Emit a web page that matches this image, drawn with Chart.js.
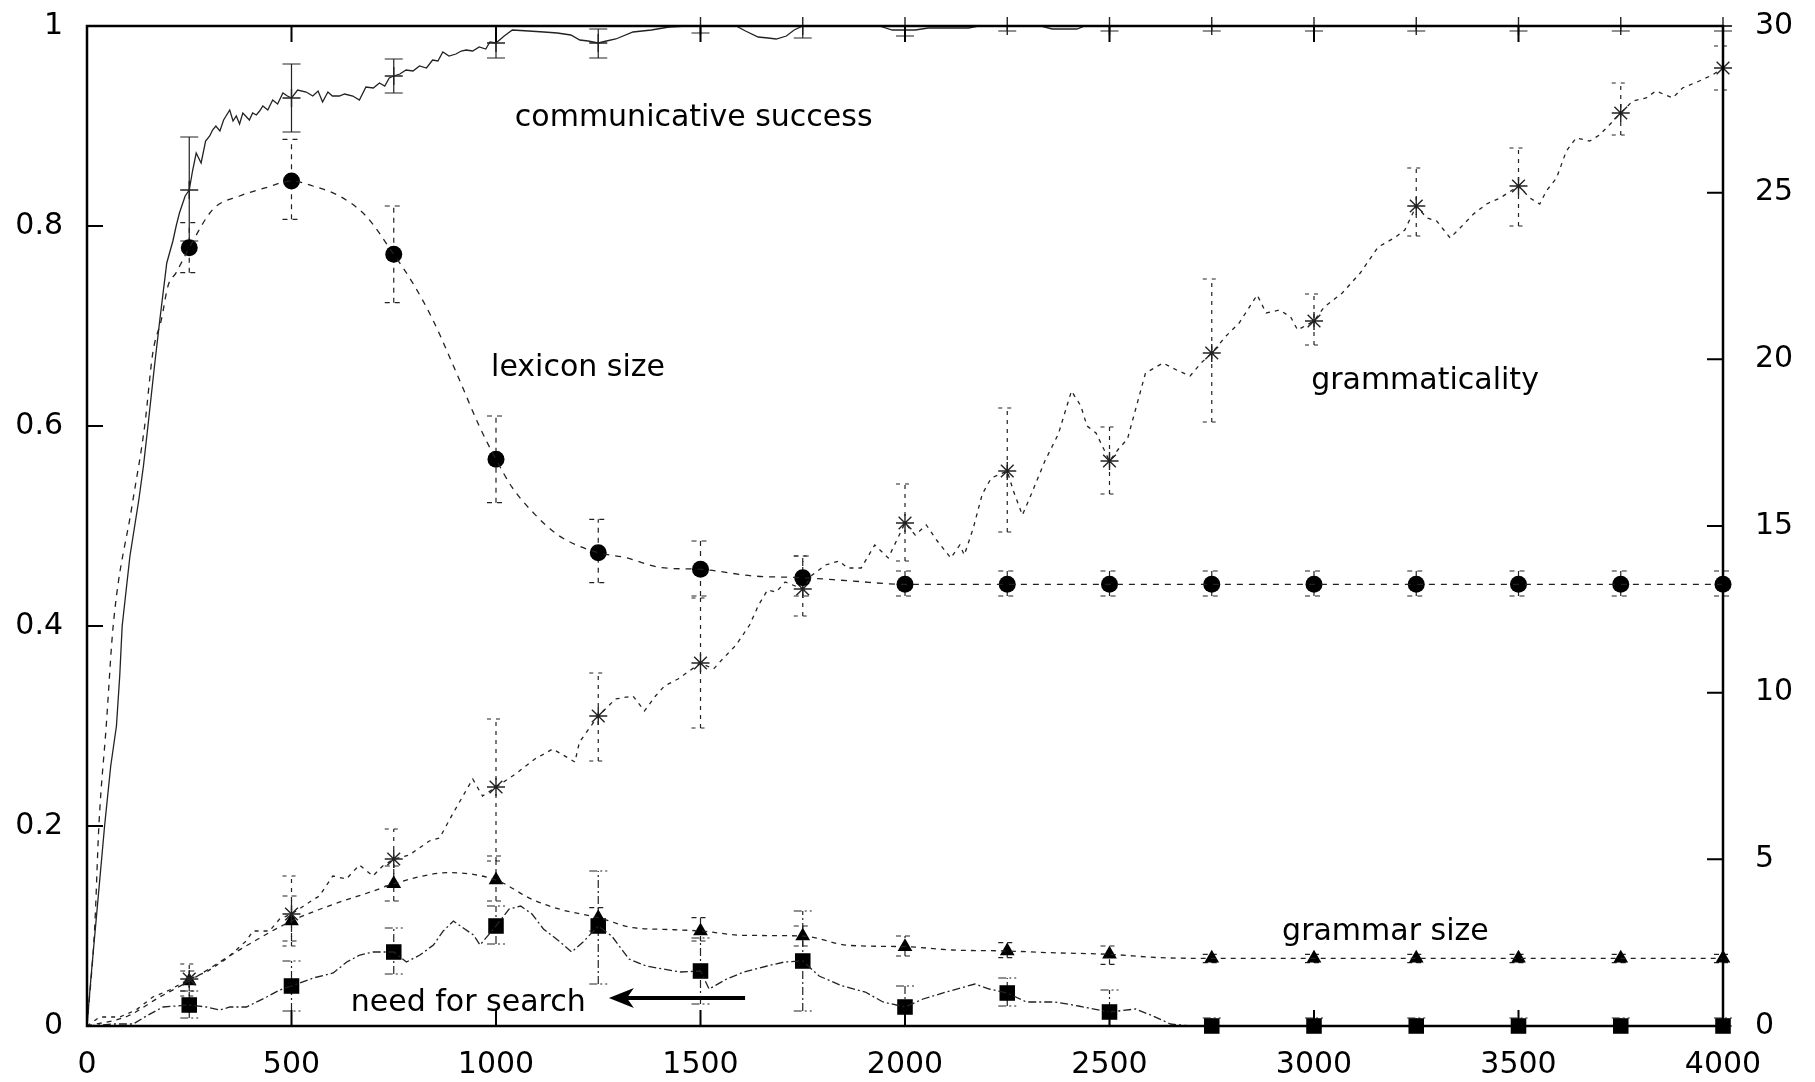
<!DOCTYPE html>
<html lang="en">

<head>
  <meta charset="UTF-8" />
  <title>Communicative success, lexicon and grammar</title>
  <script src="https://cdn.jsdelivr.net/npm/chart.js"></script>
  <style>
    html, body { margin: 0; padding: 0; background: #fff; }
    canvas { display: block; }
  </style>
</head>

<body>
  <canvas id="chart" width="1815" height="1082"></canvas>

  <script>
    // tick labels
    var xTicks = [0, 500, 1000, 1500, 2000, 2500, 3000, 3500, 4000]
    var leftTicks = [0, 0.2, 0.4, 0.6, 0.8, 1]
    var rightTicks = [0, 5, 10, 15, 20, 25, 30]

    // games at which the markers / error bars sit
    var markX = [250, 500, 750, 1000, 1250, 1500, 1750, 2000, 2250, 2500, 2750, 3000, 3250, 3500, 3750, 4000]

    // communicative success (left axis)
    var succX = [0, 10, 21, 32, 43, 58, 72, 80, 86, 105, 127, 138, 149, 165, 178, 195, 210, 218, 226, 240, 250, 258, 267, 279, 290, 300, 307, 315, 325, 334, 349, 357, 365, 373, 381, 397, 405, 414, 422, 430, 442, 454, 466, 479, 490, 500, 515, 536, 552, 565, 576, 589, 600, 617, 630, 650, 666, 682, 700, 715, 728, 739, 750, 765, 780, 797, 813, 830, 845, 858, 870, 885, 902, 915, 927, 943, 959, 975, 985, 1000, 1020, 1040, 1080, 1117, 1150, 1183, 1205, 1225, 1250, 1270, 1293, 1335, 1380, 1423, 1467, 1587, 1610, 1641, 1665, 1685, 1710, 1729, 1750, 1937, 1969, 2025, 2057, 2100, 2155, 2180, 2332, 2360, 2420, 2440, 4000]
    var succY = [0, 0.05, 0.1, 0.15, 0.2, 0.26, 0.3, 0.35, 0.4, 0.47, 0.527, 0.56, 0.6, 0.66, 0.706, 0.763, 0.785, 0.8, 0.813, 0.83, 0.836, 0.855, 0.873, 0.863, 0.885, 0.89, 0.896, 0.9, 0.895, 0.906, 0.916, 0.905, 0.91, 0.902, 0.913, 0.906, 0.913, 0.911, 0.915, 0.92, 0.916, 0.926, 0.922, 0.933, 0.93, 0.928, 0.936, 0.934, 0.93, 0.935, 0.924, 0.934, 0.93, 0.93, 0.932, 0.93, 0.926, 0.939, 0.938, 0.943, 0.94, 0.948, 0.95, 0.952, 0.956, 0.955, 0.96, 0.958, 0.966, 0.965, 0.974, 0.97, 0.972, 0.975, 0.976, 0.975, 0.979, 0.977, 0.984, 0.983, 0.99, 0.996, 0.995, 0.994, 0.993, 0.991, 0.986, 0.985, 0.983, 0.985, 0.987, 0.994, 0.996, 0.999, 1, 1, 0.995, 0.989, 0.988, 0.987, 0.99, 0.996, 1, 1, 0.996, 0.996, 0.998, 0.998, 0.998, 1, 1, 0.997, 0.997, 1, 1]
    var succMark = [0.836, 0.928, 0.95, 0.983, 0.983, 1, 1, 1, 1, 1, 1, 1, 1, 1, 1, 1]
    var succErr = [[0.785, 0.889], [0.894, 0.962], [0.933, 0.967], [0.968, 1], [0.968, 0.997], [0.993, 1], [0.988, 1], [0.99, 1], [0.995, 1], [0.995, 1], [0.995, 1], [0.995, 1], [0.995, 1], [0.995, 1], [0.995, 1], [0.995, 1]]

    // lexicon size (right axis)
    var lexX = [0, 19, 29, 47, 64, 110, 141, 161, 182, 198, 218, 250, 308, 373, 438, 500, 552, 617, 682, 750, 796, 845, 910, 959, 1000, 1040, 1095, 1149, 1193, 1250, 1317, 1405, 1500, 1630, 1750, 1870, 2000, 2500, 3000, 3500, 4000]
    var lexY = [0, 3, 6, 9, 12, 15.6, 18, 20.2, 21.2, 22.2, 22.6, 23.35, 24.5, 24.9, 25.15, 25.35, 25.2, 24.9, 24.3, 23.15, 22.3, 21.2, 19.4, 18, 17, 16.15, 15.35, 14.75, 14.45, 14.2, 14.05, 13.75, 13.7, 13.5, 13.45, 13.35, 13.25, 13.25, 13.25, 13.25, 13.25]
    var lexMark = [23.35, 25.35, 23.15, 17, 14.2, 13.7, 13.45, 13.25, 13.25, 13.25, 13.25, 13.25, 13.25, 13.25, 13.25, 13.25]
    var lexErr = [[22.6, 24.1], [24.2, 26.6], [21.7, 24.6], [15.7, 18.3], [13.3, 15.2], [12.9, 14.55], [12.9, 14.1], [12.9, 13.65], [12.9, 13.65], [12.9, 13.65], [12.9, 13.65], [12.9, 13.65], [12.9, 13.65], [12.9, 13.65], [12.9, 13.65], [12.9, 13.65]]

    // grammaticality (left axis)
    var gramX = [0, 31, 80, 120, 161, 202, 250, 292, 340, 389, 406, 446, 471, 500, 552, 568, 601, 634, 666, 699, 723, 750, 788, 837, 862, 894, 943, 967, 1000, 1051, 1095, 1139, 1193, 1204, 1250, 1292, 1335, 1363, 1390, 1412, 1445, 1500, 1532, 1554, 1587, 1620, 1642, 1664, 1685, 1707, 1750, 1773, 1806, 1839, 1860, 1893, 1926, 1959, 2000, 2025, 2052, 2079, 2112, 2134, 2145, 2167, 2189, 2211, 2250, 2265, 2287, 2309, 2342, 2375, 2407, 2430, 2445, 2467, 2500, 2522, 2544, 2566, 2588, 2631, 2664, 2697, 2724, 2750, 2785, 2817, 2861, 2883, 2916, 2943, 2960, 3000, 3025, 3069, 3113, 3157, 3200, 3222, 3250, 3276, 3300, 3333, 3357, 3390, 3422, 3455, 3500, 3528, 3552, 3568, 3593, 3617, 3641, 3674, 3698, 3722, 3750, 3779, 3812, 3836, 3877, 3901, 3942, 3974, 4000]
    var gramY = [0, 0.009, 0.009, 0.016, 0.029, 0.036, 0.047, 0.054, 0.067, 0.085, 0.095, 0.095, 0.107, 0.112, 0.126, 0.13, 0.15, 0.147, 0.161, 0.15, 0.16, 0.167, 0.171, 0.185, 0.188, 0.212, 0.247, 0.23, 0.239, 0.253, 0.267, 0.277, 0.264, 0.284, 0.31, 0.327, 0.33, 0.315, 0.33, 0.34, 0.347, 0.363, 0.357, 0.367, 0.381, 0.401, 0.421, 0.436, 0.434, 0.444, 0.437, 0.451, 0.461, 0.465, 0.458, 0.458, 0.481, 0.468, 0.503, 0.491, 0.501, 0.485, 0.468, 0.481, 0.471, 0.498, 0.532, 0.548, 0.555, 0.535, 0.511, 0.532, 0.565, 0.592, 0.635, 0.62, 0.6, 0.593, 0.565, 0.577, 0.587, 0.62, 0.653, 0.663, 0.656, 0.65, 0.663, 0.673, 0.69, 0.703, 0.731, 0.713, 0.716, 0.709, 0.696, 0.705, 0.719, 0.733, 0.753, 0.779, 0.789, 0.796, 0.82, 0.808, 0.805, 0.788, 0.798, 0.812, 0.822, 0.828, 0.84, 0.828, 0.822, 0.835, 0.848, 0.875, 0.888, 0.885, 0.891, 0.901, 0.913, 0.925, 0.928, 0.935, 0.928, 0.938, 0.945, 0.951, 0.958]
    var gramMark = [0.047, 0.112, 0.167, 0.239, 0.31, 0.363, 0.437, 0.503, 0.555, 0.565, 0.673, 0.705, 0.82, 0.84, 0.913, 0.958]
    var gramErr = [[0.03, 0.062], [0.08, 0.15], [0.14, 0.197], [0.165, 0.307], [0.265, 0.353], [0.298, 0.428], [0.41, 0.47], [0.465, 0.542], [0.494, 0.618], [0.532, 0.599], [0.604, 0.747], [0.681, 0.732], [0.79, 0.858], [0.8, 0.878], [0.891, 0.943], [0.936, 0.98]]

    // grammar size (right axis)
    var sizeX = [0, 100, 175, 250, 375, 500, 602, 700, 750, 887, 1000, 1088, 1157, 1250, 1335, 1409, 1500, 1606, 1750, 1861, 2000, 2116, 2250, 2353, 2500, 2623, 2750, 3000, 3500, 4000]
    var sizeY = [0, 0.3, 0.85, 1.35, 2.3, 3.15, 3.65, 4.05, 4.27, 4.6, 4.38, 3.8, 3.5, 3.25, 2.95, 2.9, 2.85, 2.72, 2.7, 2.42, 2.38, 2.28, 2.25, 2.2, 2.15, 2.05, 2.03, 2.03, 2.03, 2.03]
    var sizeMark = [1.35, 3.15, 4.27, 4.38, 3.25, 2.85, 2.7, 2.38, 2.25, 2.15, 2.03, 2.03, 2.03, 2.03, 2.03, 2.03]
    var sizeErr = [[1.05, 1.65], [2.55, 3.9], [3.75, 4.8], [3.75, 5.1], [2.85, 3.55], [2.55, 3.25], [2.4, 3], [2.1, 2.7], [2.05, 2.5], [1.85, 2.4], [1.9, 2.15], [1.9, 2.15], [1.9, 2.15], [1.9, 2.15], [1.9, 2.15], [1.9, 2.15]]

    // need for search (left axis)
    var searchX = [0, 64, 113, 145, 186, 250, 292, 325, 349, 390, 439, 471, 500, 553, 602, 635, 667, 700, 750, 781, 814, 847, 871, 896, 920, 945, 961, 1000, 1032, 1060, 1088, 1116, 1157, 1185, 1213, 1250, 1283, 1325, 1367, 1409, 1451, 1500, 1521, 1564, 1606, 1663, 1705, 1750, 1790, 1847, 1903, 1946, 2000, 2044, 2101, 2171, 2206, 2250, 2297, 2367, 2424, 2500, 2564, 2606, 2649, 2700, 4000]
    var searchY = [0, 0.002, 0.002, 0.01, 0.019, 0.021, 0.019, 0.016, 0.019, 0.019, 0.029, 0.036, 0.04, 0.048, 0.053, 0.064, 0.071, 0.074, 0.074, 0.064, 0.071, 0.081, 0.095, 0.105, 0.098, 0.091, 0.081, 0.1, 0.117, 0.12, 0.112, 0.097, 0.084, 0.074, 0.084, 0.1, 0.09, 0.067, 0.06, 0.057, 0.054, 0.055, 0.037, 0.047, 0.054, 0.06, 0.064, 0.065, 0.05, 0.04, 0.034, 0.024, 0.019, 0.027, 0.034, 0.042, 0.037, 0.033, 0.024, 0.024, 0.02, 0.014, 0.017, 0.01, 0.002, 0, 0]
    var searchMark = [0.021, 0.04, 0.074, 0.1, 0.1, 0.055, 0.065, 0.019, 0.033, 0.014, 0, 0, 0, 0, 0, 0]
    var searchErr = [[0.008, 0.035], [0.015, 0.065], [0.052, 0.098], [0.082, 0.12], [0.042, 0.155], [0.022, 0.088], [0.015, 0.115], [0, 0.04], [0.02, 0.048], [0, 0.036], [0, 0.008], [0, 0.008], [0, 0.008], [0, 0.008], [0, 0.008], [0, 0.008]]

    function pts(xs, ys) {
      return xs.map((x, i) => ({ x: x, y: ys[i] }))
    }

    function curve(xs, ys, axis, dash, smooth) {
      return {
        data: pts(xs, ys),
        yAxisID: axis,
        borderColor: '#222',
        borderWidth: 1.3,
        borderDash: dash,
        pointRadius: 0,
        tension: smooth ? 0.4 : 0,
        cubicInterpolationMode: smooth ? 'monotone' : 'default',
        fill: false
      }
    }

    function marks(ys, axis, style, radius, filled) {
      return {
        data: pts(markX, ys),
        yAxisID: axis,
        showLine: false,
        pointStyle: style,
        pointRadius: radius,
        pointBackgroundColor: '#000',
        pointBorderColor: filled ? '#000' : '#222',
        pointBorderWidth: filled ? 0 : 1.4,
        clip: false
      }
    }

    var errSets = [
      { r: succErr, axis: 'y', dash: [] },
      { r: lexErr, axis: 'y2', dash: [5, 5] },
      { r: gramErr, axis: 'y', dash: [4, 5] },
      { r: sizeErr, axis: 'y2', dash: [5, 4] },
      { r: searchErr, axis: 'y', dash: [8, 3, 2, 3] }
    ]

    // vertical error bars with caps, drawn under the markers
    var errorBars = {
      id: 'errorBars',
      beforeDatasetsDraw(chart) {
        var c = chart.ctx
        var xs = chart.scales.x
        c.save()
        c.strokeStyle = '#222'
        c.lineWidth = 1.2
        errSets.forEach(set => {
          var ys = chart.scales[set.axis]
          c.setLineDash(set.dash)
          set.r.forEach((r, i) => {
            var px = xs.getPixelForValue(markX[i])
            var lo = ys.getPixelForValue(r[0])
            var hi = ys.getPixelForValue(r[1])
            c.beginPath()
            c.moveTo(px, lo); c.lineTo(px, hi)
            c.moveTo(px - 9, lo); c.lineTo(px + 9, lo)
            c.moveTo(px - 9, hi); c.lineTo(px + 9, hi)
            c.stroke()
          })
        })
        c.restore()
      }
    }

    // gnuplot style box with inward ticks
    var frame = {
      id: 'frame',
      afterDatasetsDraw(chart) {
        var c = chart.ctx
        var a = chart.chartArea
        var s = chart.scales
        var tl = 16
        c.save()
        c.strokeStyle = '#000'
        c.lineWidth = 2
        c.beginPath()
        xTicks.forEach(v => {
          var px = s.x.getPixelForValue(v)
          c.moveTo(px, a.bottom); c.lineTo(px, a.bottom - tl)
          c.moveTo(px, a.top); c.lineTo(px, a.top + tl)
        })
        leftTicks.forEach(v => {
          var py = s.y.getPixelForValue(v)
          c.moveTo(a.left, py); c.lineTo(a.left + tl, py)
        })
        rightTicks.forEach(v => {
          var py = s.y2.getPixelForValue(v)
          c.moveTo(a.right, py); c.lineTo(a.right - tl, py)
        })
        c.stroke()
        c.lineWidth = 2.5
        c.strokeRect(a.left, a.top, a.right - a.left, a.bottom - a.top)
        c.restore()
      }
    }

    // curve names and the arrow
    var notes = [
      { text: 'communicative success', x: 1046, y: 0.9 },
      { text: 'lexicon size', x: 988, y: 0.65 },
      { text: 'grammaticality', x: 2993, y: 0.637 },
      { text: 'grammar size', x: 2922, y: 0.086 },
      { text: 'need for search', x: 645, y: 0.015 }
    ]
    var arrow = { from: 1609, to: 1276, y: 0.028 }

    var labels = {
      id: 'labels',
      afterDraw(chart) {
        var c = chart.ctx
        var s = chart.scales
        c.save()
        c.fillStyle = '#000'
        c.font = '30px "DejaVu Sans"'
        c.textBaseline = 'alphabetic'
        c.textAlign = 'left'
        notes.forEach(n => {
          c.fillText(n.text, s.x.getPixelForValue(n.x), s.y.getPixelForValue(n.y))
        })
        var x0 = s.x.getPixelForValue(arrow.from)
        var x1 = s.x.getPixelForValue(arrow.to)
        var py = s.y.getPixelForValue(arrow.y)
        c.strokeStyle = '#000'
        c.lineWidth = 4
        c.beginPath()
        c.moveTo(x0, py); c.lineTo(x1 + 16, py)
        c.stroke()
        c.beginPath()
        c.moveTo(x1, py)
        c.lineTo(x1 + 25, py - 10)
        c.lineTo(x1 + 18, py)
        c.lineTo(x1 + 25, py + 10)
        c.closePath()
        c.fill()
        c.restore()
      }
    }

    var tickFont = { family: '"DejaVu Sans", sans-serif', size: 30 }

    // keep the plot box where the picture has it
    function fixY(w) {
      return sc => { sc.width = w; sc.paddingTop = 0; sc.paddingBottom = 0 }
    }

    new Chart(document.getElementById('chart'), {
      type: 'line',
      data: {
        datasets: [
          curve(succX, succY, 'y', [], false),
          curve(lexX, lexY, 'y2', [6, 6], true),
          curve(gramX, gramY, 'y', [4, 5], false),
          curve(sizeX, sizeY, 'y2', [5, 5], true),
          curve(searchX, searchY, 'y', [8, 3, 2, 3], false),
          marks(succMark, 'y', 'cross', 9, false),
          marks(lexMark, 'y2', 'circle', 8.5, true),
          marks(gramMark, 'y', 'star', 9, false),
          marks(sizeMark, 'y2', 'triangle', 8.5, true),
          marks(searchMark, 'y', 'rect', 11, true)
        ]
      },
      options: {
        responsive: false,
        animation: false,
        layout: { padding: { top: 26, left: 0, right: 0, bottom: 0 } },
        plugins: { legend: { display: false }, tooltip: { enabled: false } },
        scales: {
          x: {
            type: 'linear',
            min: 0,
            max: 4000,
            afterBuildTicks: sc => { sc.ticks = xTicks.map(v => ({ value: v })) },
            afterFit: sc => { sc.height = 56; sc.paddingLeft = 0; sc.paddingRight = 0 },
            grid: { display: false, drawTicks: false },
            border: { display: false },
            ticks: { color: '#000', font: tickFont, padding: 21, maxRotation: 0, callback: v => String(v) }
          },
          y: {
            position: 'left',
            min: 0,
            max: 1,
            afterBuildTicks: sc => { sc.ticks = leftTicks.map(v => ({ value: v })) },
            afterFit: fixY(87),
            grid: { display: false, drawTicks: false },
            border: { display: false },
            ticks: { color: '#000', font: tickFont, padding: 24, callback: v => String(v) }
          },
          y2: {
            position: 'right',
            min: 0,
            max: 30,
            afterBuildTicks: sc => { sc.ticks = rightTicks.map(v => ({ value: v })) },
            afterFit: fixY(92),
            grid: { display: false, drawTicks: false },
            border: { display: false },
            ticks: { color: '#000', font: tickFont, padding: 32, callback: v => String(v) }
          }
        }
      },
      plugins: [errorBars, frame, labels]
    })
  </script>
</body>

</html>
